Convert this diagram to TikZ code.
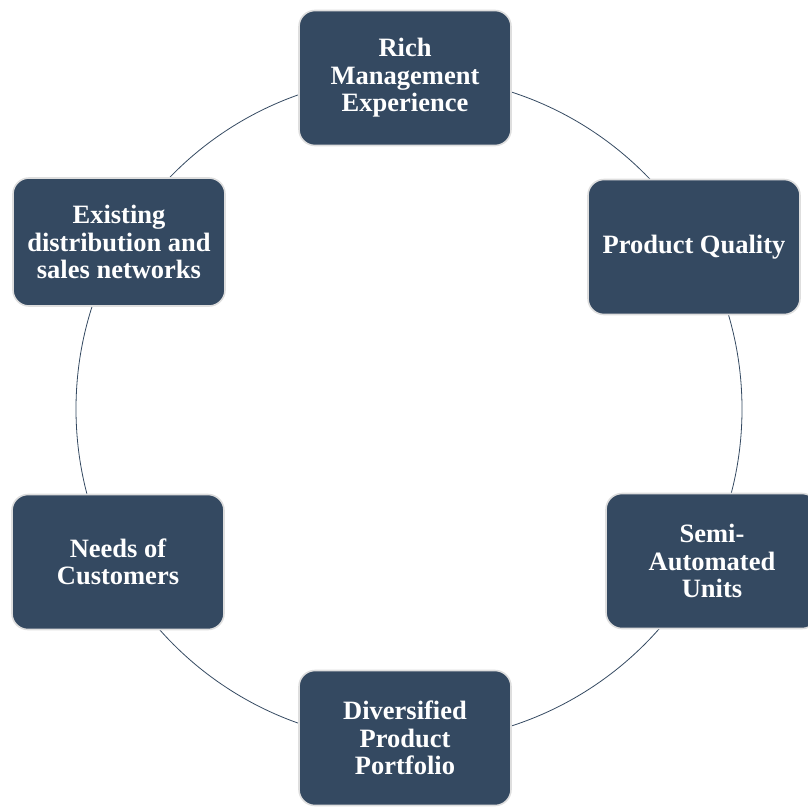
\documentclass[tikz,border=0pt]{standalone}
\usepackage{fontspec}
\setmainfont{Liberation Serif}
\usepackage{tikz}
\definecolor{boxblue}{HTML}{344961}
\definecolor{rimgray}{HTML}{DEDEDE}

\begin{document}
\begin{tikzpicture}[x=1pt,y=-1pt,
	box/.style={draw=rimgray,line width=1.6pt,fill=boxblue,rounded corners=16pt,minimum width=212pt,minimum height=135pt,align=center,text=white,font=\fontsize{26.5}{27.5}\selectfont\bfseries},
	ring/.style={draw=boxblue,line width=0.8pt}]
	\useasboundingbox (0,0) rectangle (808,806);
	
	%RING
	\coordinate (hub) at (409,409);
	\draw[ring] (hub) circle (333pt);
	
	%BOXES
	\node[box] (rich) at (405,78) {Rich\\Management\\Experience};
	\node[box] (quality) at (694,247) {Product Quality};
	\node[box] (semi) at (712,561) {Semi-\\Automated\\Units};
	\node[box] (portfolio) at (405,738) {Diversified\\Product\\Portfolio};
	\node[box] (needs) at (118,562) {Needs of\\Customers};
	\node[box,minimum height=128pt] (networks) at (119,242) {Existing\\distribution and\\sales networks};
\end{tikzpicture}
\end{document}
